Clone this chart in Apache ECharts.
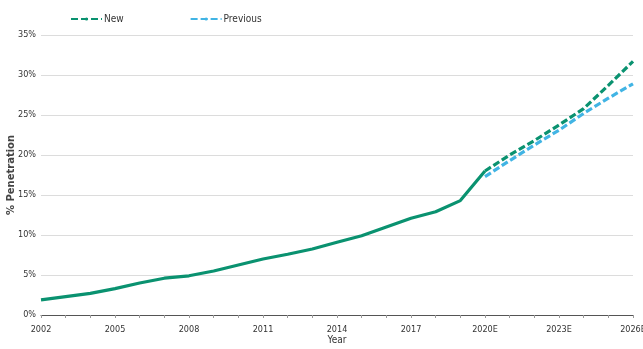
<!DOCTYPE html>
<html><head><meta charset="utf-8">
<script src="https://cdn.jsdelivr.net/npm/echarts@6/dist/echarts.min.js"></script>
<style>html,body{margin:0;padding:0;background:#fff}#c{width:643px;height:349px}</style>
</head><body><div id="c"></div>
<script>
const years = ['2002','2003','2004','2005','2006','2007','2008','2009','2010','2011','2012','2013','2014','2015','2016','2017','2018','2019','2020E','2021E','2022E','2023E','2024E','2025E','2026E'];
const historical = [1.9,2.3,2.7,3.3,4.0,4.6,4.9,5.5,6.25,7.0,7.6,8.25,9.1,9.9,11.0,12.1,12.9,14.3,18.0,null,null,null,null,null,null];
const newForecast = [null,null,null,null,null,null,null,null,null,null,null,null,null,null,null,null,null,null,18.0,20.0,21.8,23.75,25.8,28.7,31.7];
const previousForecast = [null,null,null,null,null,null,null,null,null,null,null,null,null,null,null,null,null,null,17.3,19.3,21.25,23.1,25.2,27.1,28.9];

const GREEN = '#0a9270', BLUE = '#41b4e4';
const FONT = '"DejaVu Sans Condensed","Liberation Sans Narrow","Liberation Sans",sans-serif';
const chart = echarts.init(document.getElementById('c'));
chart.setOption({
  animation: false,
  textStyle: {fontFamily: FONT},
  legend: {
    data: ['New','Previous'], left: 65, top: 9, itemWidth: 31, itemHeight: 4, itemGap: 66,
    textStyle: {fontFamily: FONT, fontSize: 10, color: '#333', padding: [0, 0, 0, -3]}
  },
  grid: {left: 41, right: 10, top: 35, bottom: 34, outerBoundsMode: 'none', containLabel: false},
  xAxis: {
    type: 'category', data: years, boundaryGap: false,
    name: 'Year', nameLocation: 'middle', nameGap: 20, nameMoveOverlap: false,
    nameTextStyle: {fontFamily: FONT, fontSize: 10, color: '#333', verticalAlign: 'top'},
    axisLine: {lineStyle: {color: '#555', width: 1}},
    axisTick: {show: true, interval: 0, length: 3, lineStyle: {color: '#999'}},
    axisLabel: {interval: 2, fontFamily: FONT, fontSize: 9, color: '#333', margin: 10},
    axisPointer: {show: false}
  },
  yAxis: {
    type: 'value', min: 0, max: 35, interval: 5,
    name: '% Penetration', nameLocation: 'middle', nameGap: 25, nameRotate: 90, nameMoveOverlap: false,
    nameTextStyle: {fontFamily: '"DejaVu Sans",sans-serif', fontSize: 10, color: '#444', fontWeight: 'bold'},
    axisLine: {show: false}, axisTick: {show: false},
    axisLabel: {formatter: '{value}%', fontFamily: FONT, fontSize: 9, color: '#333', margin: 5},
    splitLine: {lineStyle: {color: '#dcdcdc', width: 1}}
  },
  series: [
    {name: 'hist', type: 'line', data: historical, symbol: 'none', lineStyle: {color: GREEN, width: 3.2}, itemStyle: {color: GREEN}, z: 3},
    {name: 'Previous', type: 'line', data: previousForecast, symbol: 'none', lineStyle: {color: BLUE, width: 3.2, type: [7, 3]}, itemStyle: {color: BLUE}, z: 2},
    {name: 'New', type: 'line', data: newForecast, symbol: 'none', lineStyle: {color: GREEN, width: 3.2, type: [7, 3]}, itemStyle: {color: GREEN}, z: 4}
  ]
});
</script></body></html>
